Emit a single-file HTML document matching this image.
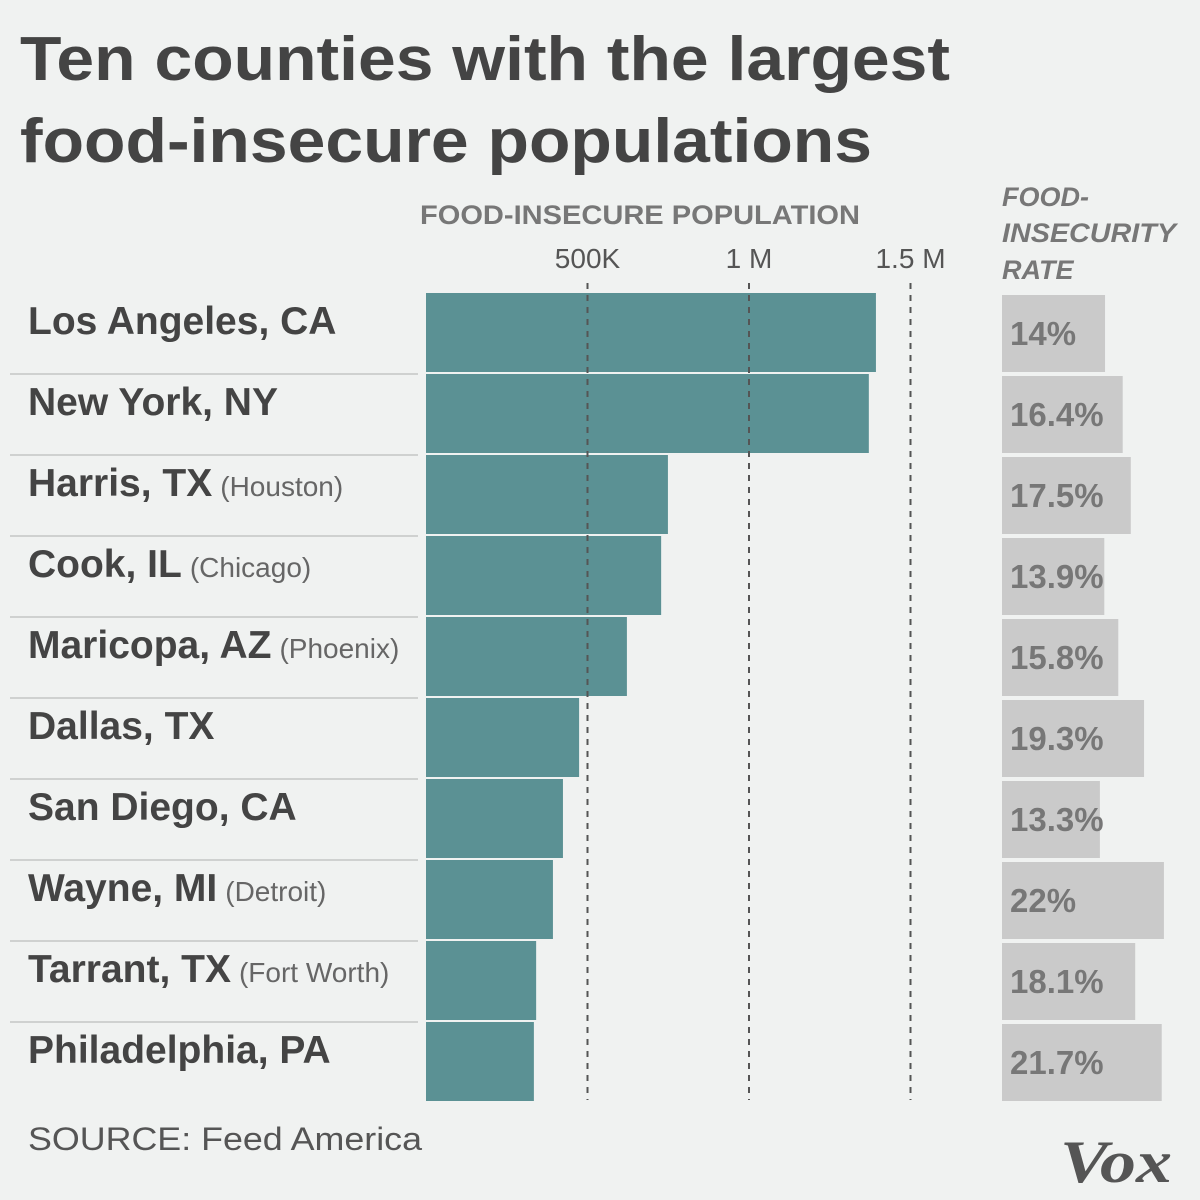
<!DOCTYPE html>
<html><head><meta charset="utf-8"><style>
body{margin:0;background:#f0f2f1;}
svg{display:block;font-family:"Liberation Sans",sans-serif;}
</style></head><body>
<svg id="c" width="1200" height="1200" viewBox="0 0 1200 1200">
<rect width="1200" height="1200" fill="#f0f2f1"/>
<text x="20" y="80" font-size="62" font-weight="bold" fill="#444" textLength="930" lengthAdjust="spacingAndGlyphs">Ten counties with the largest</text>
<text x="20" y="162" font-size="62" font-weight="bold" fill="#444" textLength="852" lengthAdjust="spacingAndGlyphs">food-insecure populations</text>
<text x="420" y="224" font-size="27" font-weight="bold" fill="#777" textLength="440" lengthAdjust="spacingAndGlyphs">FOOD-INSECURE POPULATION</text>
<g font-size="27" font-weight="bold" font-style="italic" fill="#777">
<text x="1002" y="206">FOOD-</text>
<text x="1002" y="242" textLength="174" lengthAdjust="spacingAndGlyphs">INSECURITY</text>
<text x="1002" y="279">RATE</text>
</g>
<g id="rows"></g>
<g id="grid"></g>
<text x="28" y="1150" font-size="32" fill="#555" textLength="394" lengthAdjust="spacingAndGlyphs">SOURCE: Feed America</text>
<text x="1060" y="1182" font-size="60" font-weight="bold" font-style="italic" fill="#555" font-family="Liberation Serif,serif" textLength="112" lengthAdjust="spacingAndGlyphs">Vox</text>
</svg>
<script>
const counties=["Los Angeles, CA","New York, NY","Harris, TX","Cook, IL","Maricopa, AZ","Dallas, TX","San Diego, CA","Wayne, MI","Tarrant, TX","Philadelphia, PA"];
const cities=["","","(Houston)","(Chicago)","(Phoenix)","","","(Detroit)","(Fort Worth)",""];
const population=[1393000,1371000,749000,728000,622000,474000,424000,393000,341000,334000];
const rates=[14,16.4,17.5,13.9,15.8,19.3,13.3,22,18.1,21.7];
const rateLabels=["14%","16.4%","17.5%","13.9%","15.8%","19.3%","13.3%","22%","18.1%","21.7%"];
const tickValues=[500000,1000000,1500000];
const tickLabels=["500K","1 M","1.5 M"];

const NS="http://www.w3.org/2000/svg";
const x0=426,xs=323/1e6;
const px=v=>x0+v*xs;
const r0=1002,rs=7.36;
const pr=v=>r0+v*rs;
const rowY=i=>293+i*81;
function mk(tag,attrs,parent,txt){const e=document.createElementNS(NS,tag);for(const k in attrs)e.setAttribute(k,attrs[k]);if(txt!=null)e.textContent=txt;parent.appendChild(e);return e;}
const grid=document.getElementById('grid'),rows=document.getElementById('rows');
tickValues.forEach((t,i)=>{
  const l=mk('line',{x1:px(t),x2:px(t),y1:283,y2:1100,stroke:'#555','stroke-width':2,'stroke-dasharray':'6 6'},grid);
  
  
  const tx=mk('text',{x:px(t),y:268,'text-anchor':'middle','font-size':28,fill:'#555'},grid,tickLabels[i]);
  
  
});
counties.forEach((c,i)=>{
  const y=rowY(i);
  const b=mk('rect',{x:x0,y:y,width:px(population[i])-x0,height:79,fill:'#5b9194'},rows);
  
  
  const rb=mk('rect',{x:r0,y:y+2,width:pr(rates[i])-r0,height:77,fill:'#cacaca'},rows);
  
  
  const rl=mk('text',{x:1010,y:y+52,'font-size':33,'font-weight':'bold',fill:'#777'},rows,rateLabels[i]);
  
  
  const t=mk('text',{x:28,y:y+41,'font-size':39,'font-weight':'bold',fill:'#444'},rows);
  
  
  mk('tspan',{},t,c);
  if(cities[i]) mk('tspan',{'font-size':28,'font-weight':'normal',fill:'#666',dx:8},t,cities[i]);
  if(i<counties.length-1){
    const s=mk('line',{x1:10,x2:418,y1:y+81,y2:y+81,stroke:'#cfd1d0','stroke-width':2},rows);
    
    
  }
});
</script>
</body></html>
